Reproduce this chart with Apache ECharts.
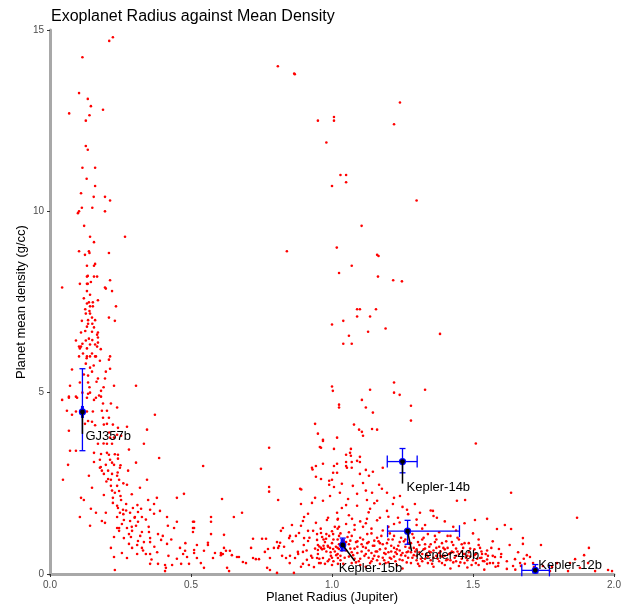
<!DOCTYPE html>
<html>
<head>
<meta charset="utf-8">
<script src="https://cdn.jsdelivr.net/npm/echarts@6.0.0/dist/echarts.min.js"></script>
<style>
html,body{margin:0;padding:0;background:#fff;}
#chart{width:627px;height:609px;}
</style>
</head>
<body>
<div id="chart"></div>
<script>
// ---------- DATA ----------
var chartTitle = 'Exoplanet Radius against Mean Density';
var xAxisName = 'Planet Radius (Jupiter)';
var yAxisName = 'Planet mean density (g/cc)';
var xTicks = [0, 0.5, 1.0, 1.5, 2.0];
var yTicks = [0, 5, 10, 15];

// [radius (Jupiter), density (g/cc)]
var upperLeft = [[0.223,14.8],[0.21,14.7],[0.115,14.25],[0.103,13.26],[0.134,13.1],[0.145,12.9],[0.188,12.8],[0.068,12.7],[0.14,12.65],[0.127,12.5],[0.127,11.8],[0.134,11.7],[0.115,11.2],[0.16,11.2],[0.13,10.9],[0.16,10.7],[0.11,10.5],[0.155,10.4],[0.195,10.4],[0.213,10.3],[0.113,10.1],[0.15,10.1],[0.103,10.0],[0.099,9.95],[0.195,10.0],[0.121,9.6],[0.266,9.3],[0.142,9.3],[0.156,9.15],[0.103,8.9],[0.138,8.9],[0.14,8.85],[0.124,8.8],[0.209,8.85],[0.131,8.5],[0.16,8.55],[0.156,8.5],[0.131,8.2],[0.134,8.22],[0.156,8.2],[0.167,8.2],[0.106,8.0],[0.131,8.0],[0.134,8.0],[0.145,8.05],[0.213,8.1],[0.043,7.9],[0.195,7.9],[0.131,7.8],[0.22,7.8],[0.142,7.7],[0.198,7.87]];
var upperMiddle = [[0.808,14.0],[0.866,13.8],[0.868,13.78],[0.95,12.5],[0.84,8.9],[1.241,13.0],[1.007,12.6],[1.007,12.5],[1.22,12.4],[0.98,11.9],[1.03,11.0],[1.05,11.0],[1.05,10.8],[1.0,10.7],[1.30,10.3],[1.105,9.6],[1.017,9.0],[1.16,8.8],[1.165,8.77],[1.07,8.5],[1.025,8.3],[1.163,8.2],[1.217,8.1],[1.248,8.07],[1.089,7.3],[1.099,7.3],[1.156,7.3],[1.089,7.1],[1.135,7.1],[1.04,6.98],[1.0,6.88],[1.19,6.77],[1.128,6.68],[1.383,6.62],[1.06,6.57],[1.04,6.35],[1.07,6.35],[1.22,5.28],[1.0,5.17],[1.003,5.05],[1.135,5.08],[1.33,5.08],[1.22,5.0],[1.24,4.94],[1.106,4.8],[1.025,4.67],[1.025,4.59],[1.28,4.64],[1.12,4.59],[1.145,4.45],[1.28,4.23],[1.078,4.12],[1.096,3.98],[1.106,3.92],[1.142,4.0],[1.16,3.98],[1.11,3.81],[1.018,3.76],[0.968,3.67],[0.957,3.5],[1.007,3.45],[1.067,3.45],[1.51,3.6],[1.064,3.34],[1.067,3.26],[1.05,3.29],[1.099,3.23],[1.05,3.09],[1.07,3.09],[1.089,3.12],[1.099,3.09],[1.007,2.98],[1.05,2.98],[1.07,2.93],[1.18,2.93],[1.12,2.87]];
var leftColumn = [[0.234,7.38],[0.131,7.46],[0.138,7.49],[0.152,7.49],[0.142,7.38],[0.152,7.38],[0.127,7.18],[0.142,7.18],[0.149,7.07],[0.209,7.07],[0.23,6.98],[0.113,6.98],[0.135,7.0],[0.135,6.9],[0.131,6.82],[0.156,6.8],[0.17,6.66],[0.149,6.68],[0.11,6.66],[0.167,6.6],[0.17,6.52],[0.092,6.44],[0.138,6.49],[0.127,6.44],[0.17,6.38],[0.103,6.27],[0.11,6.27],[0.142,6.33],[0.16,6.33],[0.167,6.27],[0.131,6.22],[0.106,6.22],[0.149,6.08],[0.117,6.08],[0.103,6.0],[0.131,6.0],[0.142,6.0],[0.16,6.0],[0.163,6.0],[0.213,6.0],[0.209,5.91],[0.177,5.88],[0.127,5.8],[0.142,5.69],[0.213,5.66],[0.078,5.64],[0.149,5.58],[0.198,5.58],[0.135,5.47],[0.17,5.39],[0.195,5.39],[0.106,5.28],[0.135,5.28],[0.071,5.19],[0.227,5.19],[0.305,5.19],[0.181,5.05],[0.142,5.0],[0.067,4.86],[0.096,4.86],[0.131,4.86],[0.163,4.86],[0.174,4.92],[0.12,7.6],[0.14,7.25],[0.16,7.0],[0.125,6.7],[0.15,6.45],[0.115,6.35],[0.18,6.2],[0.13,5.95],[0.155,5.75],[0.12,5.5],[0.165,5.3],[0.14,5.15],[0.115,5.0],[0.19,5.15],[0.15,6.9],[0.125,7.3],[0.17,7.55]];
var lowerLeft = [[0.043,4.8],[0.067,4.89],[0.092,4.89],[0.135,4.97],[0.181,4.89],[0.156,4.8],[0.188,4.7],[0.216,4.7],[0.238,4.59],[0.06,4.5],[0.092,4.48],[0.078,4.39],[0.131,4.48],[0.152,4.48],[0.184,4.5],[0.202,4.5],[0.372,4.39],[0.188,4.31],[0.209,4.31],[0.124,4.14],[0.135,4.22],[0.149,4.2],[0.191,4.12],[0.202,4.14],[0.223,4.12],[0.241,4.03],[0.273,4.06],[0.067,3.95],[0.344,3.98],[0.238,3.84],[0.213,3.76],[0.227,3.76],[0.252,3.81],[0.17,3.59],[0.202,3.59],[0.22,3.59],[0.333,3.59],[0.28,3.43],[0.071,3.4],[0.092,3.4],[0.156,3.34],[0.181,3.31],[0.202,3.34],[0.209,3.29],[0.241,3.29],[0.387,3.2],[0.177,3.15],[0.213,3.15],[0.241,3.18],[0.156,3.09],[0.22,3.07],[0.305,3.07],[0.064,3.01],[0.198,3.01],[0.227,3.01],[0.177,2.93],[0.248,2.93],[0.184,2.85],[0.206,2.85],[0.277,2.85],[0.138,2.71],[0.191,2.76],[0.22,2.76],[0.238,2.71],[0.206,2.62],[0.046,2.6],[0.216,2.6],[0.245,2.6],[0.344,2.6],[0.273,2.46],[0.149,2.38],[0.216,2.43],[0.238,2.43],[0.319,2.38],[0.245,2.29],[0.23,2.24],[0.191,2.18],[0.45,2.1],[0.223,2.1],[0.11,2.1],[0.12,2.04],[0.252,2.04],[0.348,2.04],[0.379,2.1],[0.475,2.21],[0.223,1.96],[0.27,1.93],[0.369,1.93],[0.238,1.88],[0.241,1.82],[0.294,1.82],[0.145,1.8],[0.259,1.77],[0.323,1.8],[0.355,1.77],[0.39,1.74],[0.312,1.71],[0.163,1.69],[0.198,1.69],[0.248,1.69],[0.284,1.69],[0.106,1.57],[0.238,1.57],[0.301,1.57],[0.326,1.57],[0.369,1.66],[0.415,1.57],[0.262,1.49],[0.184,1.46],[0.284,1.46],[0.312,1.44],[0.45,1.44],[0.511,1.44],[0.255,1.38],[0.195,1.41],[0.305,1.33],[0.142,1.33],[0.238,1.27],[0.245,1.27],[0.273,1.27],[0.511,1.27],[0.418,1.33],[0.44,1.27],[0.245,1.19],[0.291,1.19],[0.326,1.16],[0.351,1.16],[0.383,1.1],[0.227,1.02],[0.262,0.99],[0.287,1.02],[0.355,0.99],[0.394,0.94],[0.312,0.91],[0.333,0.88],[0.355,0.88],[0.28,0.83],[0.309,0.8],[0.415,0.83],[0.216,0.72],[0.291,0.72],[0.326,0.72],[0.461,0.72],[0.479,0.64],[0.255,0.58],[0.309,0.55],[0.34,0.55],[0.355,0.55],[0.472,0.55],[0.486,0.47],[0.521,0.8],[0.511,0.66],[0.227,0.47],[0.273,0.44],[0.383,0.28],[0.408,0.25],[0.411,0.17],[0.433,0.25],[0.465,0.28],[0.493,0.28],[0.521,0.44],[0.23,0.11],[0.408,0.08],[0.355,0.28],[0.26,1.65],[0.29,1.3],[0.32,1.05],[0.35,1.3],[0.28,1.1],[0.3,1.55],[0.34,1.5],[0.37,0.75],[0.4,1.05],[0.43,0.95],[0.38,0.6],[0.42,0.5],[0.45,0.42],[0.48,0.85],[0.33,0.65],[0.36,0.4],[0.25,2.15],[0.27,1.75],[0.31,1.9],[0.22,2.3],[0.2,2.55],[0.18,2.95],[0.24,2.8],[0.26,2.5],[0.29,2.2],[0.23,3.3],[0.25,3.0],[0.19,3.6],[0.21,3.9],[0.16,4.1]];
var lowerMiddle = [[0.94,4.14],[0.95,3.87],[0.968,3.7],[0.961,3.48],[0.777,3.48],[0.543,2.98],[0.748,2.9],[0.943,2.98],[0.929,2.93],[0.931,2.88],[1.018,2.79],[0.943,2.68],[0.961,2.62],[1.0,2.6],[0.99,2.46],[1.007,2.4],[0.777,2.4],[0.777,2.27],[0.887,2.35],[0.891,2.33],[0.94,2.1],[0.929,1.96],[0.809,2.04],[0.61,2.07],[0.89,1.93],[0.681,1.69],[0.915,1.66],[1.018,1.69],[0.652,1.57],[0.901,1.57],[0.897,1.46],[0.982,1.49],[1.021,1.52],[0.507,1.44],[0.571,1.57],[0.571,1.44],[0.507,1.27],[0.507,1.16],[0.571,1.1],[0.617,1.08],[0.826,1.27],[0.858,1.35],[0.89,1.33],[0.943,1.41],[1.025,1.3],[0.819,1.19],[0.851,1.05],[0.872,1.05],[0.883,1.13],[0.915,1.19],[0.933,1.19],[0.947,1.1],[0.961,1.13],[1.004,1.1],[0.979,0.97],[0.947,0.94],[0.901,0.99],[0.915,0.91],[0.848,0.99],[0.816,0.86],[0.805,0.88],[0.766,0.97],[0.752,0.97],[0.72,0.97],[0.713,0.72],[0.56,0.86],[0.56,0.8],[0.617,0.72],[0.546,0.64],[0.511,0.58],[0.585,0.58],[0.606,0.58],[0.606,0.52],[0.624,0.64],[0.638,0.64],[0.645,0.52],[0.663,0.47],[0.67,0.47],[0.684,0.33],[0.695,0.3],[0.72,0.44],[0.73,0.41],[0.741,0.41],[0.762,0.61],[0.773,0.69],[0.78,0.44],[0.794,0.72],[0.809,0.72],[0.812,0.77],[0.823,0.5],[0.837,0.44],[0.851,0.5],[0.869,0.44],[0.879,0.61],[0.911,0.39],[0.897,0.61],[0.926,0.5],[0.897,0.28],[0.918,0.25],[0.95,0.8],[0.95,0.66],[0.955,0.76],[0.961,0.72],[0.972,0.7],[0.986,0.75],[0.993,0.72],[1.004,0.69],[1.014,0.75],[1.025,0.69],[0.947,0.44],[0.968,0.44],[0.996,0.5],[1.021,0.44],[0.975,0.28],[1.0,0.25],[1.021,0.28],[0.936,0.19],[0.954,0.3],[0.77,0.17],[0.78,0.11],[0.635,0.08],[0.628,0.17],[0.546,0.17],[0.805,0.03],[0.865,0.03],[0.535,0.3],[0.578,0.44],[0.613,0.55],[0.83,0.75],[0.85,0.3],[0.86,0.9],[0.88,0.55],[0.89,0.2],[0.9,0.8],[0.91,0.65],[0.92,1.0],[0.93,0.45],[0.94,0.7]];
var jupiterBand = [[0.968,3.04],[1.018,3.04],[1.053,2.93],[1.004,2.79],[1.099,2.76],[1.131,2.71],[1.145,2.82],[0.99,2.57],[1.035,2.49],[1.074,2.43],[1.11,2.51],[1.167,2.46],[1.177,2.35],[1.195,2.24],[1.142,2.24],[1.089,2.21],[1.028,2.24],[0.993,2.15],[0.968,2.02],[1.057,2.07],[1.124,2.04],[1.16,2.02],[1.216,1.93],[1.294,1.93],[1.241,2.15],[1.035,1.82],[1.089,1.88],[1.135,1.8],[1.195,1.74],[1.266,1.77],[1.312,1.69],[1.358,1.74],[1.443,2.02],[1.472,2.04],[1.372,1.55],[0.986,1.55],[1.071,1.52],[1.124,1.52],[1.17,1.55],[1.234,1.55],[1.507,1.49],[1.55,1.52],[1.02,1.5],[1.06,1.62],[1.1,1.45],[1.13,1.7],[1.16,1.48],[1.2,1.58],[1.24,1.42],[1.27,1.65],[1.3,1.5],[1.33,1.35],[1.36,1.6],[1.4,1.45],[1.43,1.3],[1.47,1.4],[1.05,1.9],[1.15,1.95],[1.25,1.85],[1.35,1.75],[1.12,2.3],[1.22,2.1],[1.02,1.25],[1.08,1.35],[1.14,1.25],[1.2,1.3],[1.26,1.2],[1.32,1.25],[1.38,1.15],[1.44,1.2],[1.12,1.4],[1.22,1.38],[1.3,1.35],[1.42,1.05]];
var hotJupiters = [[0.96,1.25],[0.97,0.95],[0.98,0.62],[0.99,1.05],[1.0,0.85],[1.0,0.45],[1.01,1.3],[1.02,0.72],[1.02,0.55],[1.03,1.12],[1.03,0.38],[1.04,0.92],[1.05,0.65],[1.05,1.38],[1.06,0.82],[1.06,0.48],[1.07,1.05],[1.07,0.3],[1.08,0.7],[1.08,1.22],[1.09,0.58],[1.09,0.9],[1.10,0.42],[1.10,1.0],[1.11,0.75],[1.11,1.3],[1.12,0.55],[1.12,0.2],[1.13,0.88],[1.13,0.65],[1.14,1.12],[1.14,0.35],[1.15,0.78],[1.15,0.5],[1.16,1.0],[1.16,0.62],[1.17,0.28],[1.17,0.85],[1.18,0.45],[1.18,1.2],[1.19,0.7],[1.19,0.55],[1.20,0.95],[1.20,0.32],[1.21,0.62],[1.21,0.78],[1.22,0.48],[1.22,1.05],[1.23,0.25],[1.23,0.68],[1.24,0.88],[1.24,0.4],[1.25,0.58],[1.25,0.15],[1.26,0.75],[1.26,0.95],[1.27,0.45],[1.27,0.62],[1.28,0.3],[1.28,0.85],[1.29,0.52],[1.29,1.0],[1.30,0.68],[1.30,0.38],[1.31,0.22],[1.31,0.8],[1.32,0.55],[1.32,0.95],[1.33,0.42],[1.33,0.7],[1.34,0.3],[1.34,1.1],[1.35,0.6],[1.35,0.82],[1.36,0.45],[1.36,0.2],[1.37,0.72],[1.37,0.95],[1.38,0.35],[1.38,0.58],[1.39,0.85],[1.39,0.48],[1.40,0.25],[1.40,0.68],[1.41,1.05],[1.41,0.4],[1.42,0.58],[1.42,0.15],[1.43,0.8],[1.43,0.32],[1.44,0.5],[1.44,0.7],[1.45,0.22],[1.45,0.95],[1.46,0.42],[1.46,0.62],[1.47,0.3],[1.47,0.85],[1.48,0.5],[1.48,0.18],[1.49,0.7],[1.50,0.38],[1.50,1.12],[1.51,0.55],[1.52,0.25],[1.52,0.8],[1.53,0.45],[1.54,0.12],[1.55,0.65],[1.56,0.3],[1.57,0.9],[1.58,0.2],[1.60,0.55],[1.62,0.35],[1.63,0.8],[1.65,0.12],[1.66,0.6],[1.68,0.42],[0.95,0.55],[0.96,0.3],[0.97,0.78],[0.98,1.1],[0.99,0.4],[1.0,1.18],[1.01,0.62],[1.02,0.95],[1.03,0.5],[1.04,0.28],[1.05,0.88],[1.06,1.15],[1.07,0.6],[1.08,0.42],[1.09,0.75],[1.10,0.25],[1.11,0.95],[1.12,0.72],[1.13,0.45],[1.14,0.58],[1.15,0.92],[1.16,0.38],[1.17,0.68],[1.18,0.82],[1.19,0.3],[1.20,0.6],[1.21,0.42],[1.22,0.72],[1.23,0.55],[1.24,0.65],[1.25,0.38],[1.26,0.5],[1.27,0.85],[1.28,0.6],[1.29,0.72],[1.30,0.5],[1.31,0.6],[1.32,0.35],[1.33,0.82],[1.34,0.48],[1.35,0.38],[1.36,0.65],[1.37,0.5],[1.38,0.75],[1.39,0.3],[1.40,0.5],[1.41,0.72],[1.42,0.38],[1.43,0.6],[1.44,0.35],[1.45,0.55],[1.46,0.82],[1.47,0.55],[1.48,0.38],[1.49,0.48],[1.51,0.3],[1.53,0.62],[1.55,0.4],[1.57,0.5],[1.59,0.3]];
var hotJupiters2 = [[0.955,0.42],[0.965,0.68],[0.975,0.88],[0.985,0.35],[0.995,0.6],[1.005,0.95],[1.015,0.52],[1.025,0.82],[1.035,0.65],[1.045,0.45],[1.055,1.02],[1.065,0.7],[1.075,0.52],[1.085,0.88],[1.095,0.35],[1.105,0.62],[1.115,0.5],[1.125,0.85],[1.135,0.3],[1.145,0.78],[1.155,0.62],[1.165,0.48],[1.175,1.05],[1.185,0.58],[1.195,0.85],[1.205,0.45],[1.215,0.95],[1.225,0.35],[1.235,0.78],[1.245,0.52],[1.255,0.9],[1.265,0.32],[1.275,0.72],[1.285,0.45],[1.295,0.62],[1.305,0.88],[1.315,0.42],[1.325,0.68],[1.335,0.55],[1.345,0.75],[1.355,0.28],[1.365,0.88],[1.375,0.42],[1.385,0.62],[1.395,0.72],[1.405,0.38],[1.415,0.55],[1.425,0.88],[1.435,0.45],[1.445,0.62],[1.455,0.32],[1.465,0.72],[1.475,0.45],[1.485,0.6],[1.495,0.25],[1.505,0.68],[1.515,0.42],[1.525,0.72],[1.545,0.55],[1.565,0.72],[0.965,1.02],[0.985,0.78],[1.005,0.35],[1.025,1.05],[1.045,0.78],[1.065,0.92],[1.085,0.32],[1.105,0.82],[1.125,1.1],[1.145,0.42],[1.165,0.9],[1.185,0.38],[1.205,1.12],[1.225,0.6],[1.245,1.0],[1.265,0.6],[1.285,1.1],[1.305,0.28],[1.325,1.0],[1.345,0.62],[1.365,1.05],[1.385,0.5],[1.405,0.9],[1.425,0.62],[1.445,1.0],[1.465,0.55],[1.485,0.85],[1.505,0.52],[1.52,0.95],[1.54,0.35]];
var inflated = [[1.635,2.24],[1.869,1.55],[1.585,1.24],[1.613,1.35],[1.635,1.24],[1.677,0.99],[1.677,0.83],[1.741,0.8],[1.592,0.69],[1.911,0.72],[1.894,0.52],[1.553,0.5],[1.578,0.47],[1.599,0.47],[1.649,0.41],[1.691,0.52],[1.702,0.47],[1.535,0.36],[1.55,0.28],[1.571,0.3],[1.589,0.22],[1.62,0.14],[1.642,0.22],[1.667,0.3],[1.67,0.22],[1.684,0.28],[1.713,0.3],[1.716,0.19],[1.748,0.22],[1.78,0.19],[1.798,0.3],[1.844,0.3],[1.862,0.41],[1.879,0.17],[1.908,0.3],[1.933,0.08],[1.979,0.11],[1.993,0.08],[1.837,0.08],[1.773,0.08],[1.532,0.55],[1.525,0.44]];

// Highlighted planets with error bars
var planetNames   = ['GJ357b', 'Kepler-14b', 'Kepler-40b', 'Kepler-15b', 'Kepler-12b'];
var planetRadius  = [0.115, 1.25, 1.268, 1.038, 1.721];
var planetDensity = [4.47, 3.10, 1.18, 0.80, 0.10];
var radiusLow     = [0.112, 1.196, 1.197, 1.033, 1.673];
var radiusHigh    = [0.118, 1.302, 1.452, 1.043, 1.771];
var densityLow    = [3.40, 2.79, 0.82, 0.64, 0.03];
var densityHigh   = [5.66, 3.46, 1.48, 0.99, 0.26];

// ---------- STYLE (pixel offsets of repelled labels) ----------
var labelStyle = [
  {seg: [0, 22],  text: [3, 25]},
  {seg: [0, 22],  text: [4, 26]},
  {seg: [4, 20],  text: [8, 24]},
  {seg: [12, 16], text: [-4, 23]},
  {seg: [0, 0],   text: [3, -5]}
];

var allPoints = [].concat(upperLeft, upperMiddle, leftColumn, lowerLeft, lowerMiddle, jupiterBand, hotJupiters, hotJupiters2, inflated);

var planetData = planetNames.map(function (n, i) {
  return [planetRadius[i], planetDensity[i], radiusLow[i], radiusHigh[i], densityLow[i], densityHigh[i]];
});

var FONT = '"Liberation Sans", Arial, Helvetica, sans-serif';
var chart = echarts.init(document.getElementById('chart'), null, {renderer: 'canvas'});

function renderPlanet(params, api) {
  var i = params.dataIndex;
  var x = api.value(0), y = api.value(1);
  var p = api.coord([x, y]);
  var xl = api.coord([api.value(2), y]);
  var xh = api.coord([api.value(3), y]);
  var yl = api.coord([x, api.value(4)]);
  var yh = api.coord([x, api.value(5)]);
  var blue = {stroke: '#0000ff', lineWidth: 1.3};
  var capH = 6, capW = 3;
  var ls = labelStyle[i];
  var children = [
    {type: 'line', shape: {x1: xl[0], y1: p[1], x2: xh[0], y2: p[1]}, style: blue},
    {type: 'line', shape: {x1: xl[0], y1: p[1] - capH, x2: xl[0], y2: p[1] + capH}, style: blue},
    {type: 'line', shape: {x1: xh[0], y1: p[1] - capH, x2: xh[0], y2: p[1] + capH}, style: blue},
    {type: 'line', shape: {x1: p[0], y1: yl[1], x2: p[0], y2: yh[1]}, style: blue},
    {type: 'line', shape: {x1: p[0] - capW, y1: yl[1], x2: p[0] + capW, y2: yl[1]}, style: blue},
    {type: 'line', shape: {x1: p[0] - capW, y1: yh[1], x2: p[0] + capW, y2: yh[1]}, style: blue},
    {type: 'circle', shape: {cx: p[0], cy: p[1], r: 3.6}, style: {fill: '#0000ff'}},
    {type: 'line', shape: {x1: p[0], y1: p[1], x2: p[0] + ls.seg[0], y2: p[1] + ls.seg[1]}, style: {stroke: '#000', lineWidth: 1.5}},
    {type: 'circle', shape: {cx: p[0], cy: p[1], r: 2.4}, style: {fill: '#000'}},
    {type: 'text', x: p[0] + ls.text[0], y: p[1] + ls.text[1],
      style: {text: planetNames[i], fill: '#000', font: '13px ' + FONT, textAlign: 'left', textVerticalAlign: 'middle'}}
  ];
  return {type: 'group', children: children};
}

var option = {
  backgroundColor: '#ffffff',
  animation: false,
  title: {
    text: chartTitle, left: 46, top: 4,
    textStyle: {fontSize: 16, fontWeight: 'normal', color: '#000', fontFamily: FONT}
  },
  grid: {left: 50, right: 13, top: 30, bottom: 35, containLabel: false},
  xAxis: {
    type: 'value', min: 0, max: 2, interval: 0.5,
    name: xAxisName, nameLocation: 'middle', nameGap: 17, nameMoveOverlap: false,
    nameTextStyle: {fontSize: 13, color: '#000', fontFamily: FONT},
    axisLine: {show: true, lineStyle: {color: '#a8a8a8', width: 3}},
    axisTick: {show: true, length: 3, lineStyle: {color: '#333', width: 1}},
    axisLabel: {color: '#4d4d4d', fontSize: 10, margin: 6, fontFamily: FONT,
      formatter: function (v) { return xTicks.indexOf(v) >= 0 ? v.toFixed(1) : ''; }},
    splitLine: {show: false}
  },
  yAxis: {
    type: 'value', min: 0, max: 15, interval: 5,
    name: yAxisName, nameLocation: 'middle', nameGap: 22, nameRotate: 90, nameMoveOverlap: false,
    nameTextStyle: {fontSize: 13, color: '#000', fontFamily: FONT},
    axisLine: {show: true, lineStyle: {color: '#a8a8a8', width: 3}},
    axisTick: {show: true, length: 3, lineStyle: {color: '#333', width: 1}},
    axisLabel: {color: '#4d4d4d', fontSize: 10, margin: 6, fontFamily: FONT,
      formatter: function (v) { return yTicks.indexOf(v) >= 0 ? String(v) : ''; }},
    splitLine: {show: false}
  },
  series: [
    {
      type: 'scatter', data: allPoints, symbol: 'circle', symbolSize: 2.6,
      itemStyle: {color: '#ff0000', opacity: 1}, silent: true, z: 2
    },
    {
      type: 'custom', data: planetData, renderItem: renderPlanet, silent: true, z: 5,
      encode: {x: 0, y: 1}, clip: false
    }
  ]
};
chart.setOption(option);
</script>
</body>
</html>
